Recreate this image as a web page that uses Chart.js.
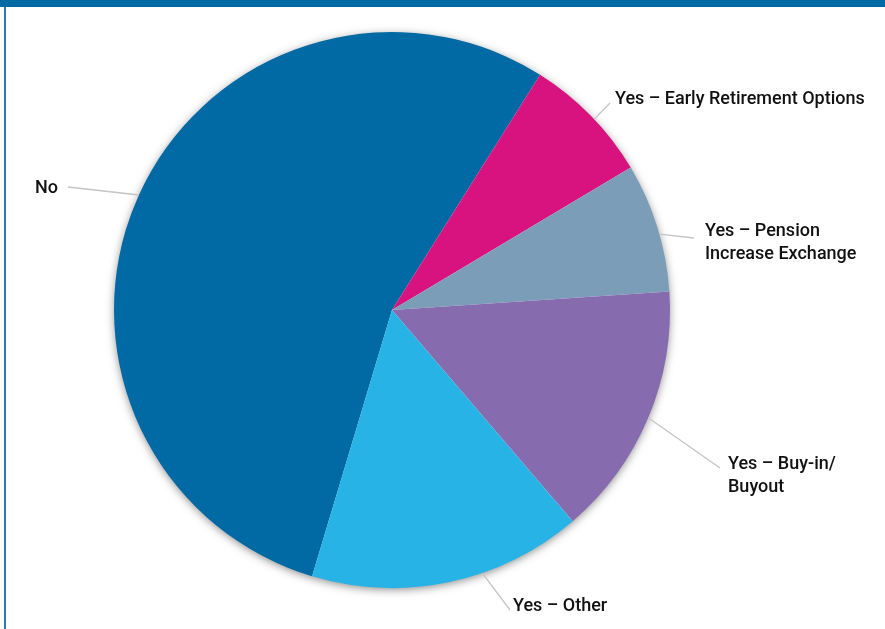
<!DOCTYPE html>
<html>
<head>
<meta charset="utf-8">
<script src="https://cdn.jsdelivr.net/npm/chart.js@4/dist/chart.umd.min.js"></script>
<style>
  html, body { margin: 0; padding: 0; background: #fff; }
  #wrap { position: relative; width: 885px; height: 629px; overflow: hidden; }
  #topbar { position: absolute; left: 0; top: 0; width: 885px; height: 7px; background: #0169a4; }
  #edge { position: absolute; left: 4px; top: 7px; width: 2px; height: 622px; background: #2a7bb6; }
  canvas { position: absolute; left: 0; top: 0; }
</style>
</head>
<body>
<div id="wrap">
  <canvas id="pie" width="885" height="629"></canvas>
  <div id="topbar"></div>
  <div id="edge"></div>
</div>
<script>
'use strict';

// --- DATA ---
const categories = ['No', 'Yes – Early Retirement Options', 'Yes – Pension Increase Exchange', 'Yes – Buy-in/ Buyout', 'Yes – Other'];
const shares = [54.3, 7.5, 7.5, 14.8, 15.9];
const labelLines = [['No'], ['Yes – Early Retirement Options'], ['Yes – Pension', 'Increase Exchange'], ['Yes – Buy-in/', 'Buyout'], ['Yes – Other']];
const sliceColors = ['#0169a4', '#d8127f', '#7b9db8', '#866caf', '#27b3e6'];

// --- LABEL LAYOUT (leader end point, text anchor, edge angle nudge in degrees) ---
const labelLayout = [
    { end: [68, 187], text: [35, 188], shift: 0 },
    { end: [610, 103], text: [615, 99], shift: 1 },
    { end: [694, 238], text: [705, 231], shift: 1.5 },
    { end: [720, 468], text: [728, 464], shift: 0 },
    { end: [510, 610], text: [513, 606], shift: -7 }
];

const pieShadow = {
    id: 'pieShadow',
    beforeDatasetsDraw(chart) {
        const arc = chart.getDatasetMeta(0).data[0];
        if (!arc) return;
        const ctx = chart.ctx;
        ctx.save();
        ctx.shadowColor = 'rgba(0,0,0,0.5)';
        ctx.shadowBlur = 10;
        ctx.shadowOffsetX = 0;
        ctx.shadowOffsetY = 2;
        ctx.fillStyle = '#fff';
        ctx.beginPath();
        ctx.arc(arc.x, arc.y, arc.outerRadius - 1, 0, Math.PI * 2);
        ctx.fill();
        ctx.restore();
    }
};

const sliceLabels = {
    id: 'sliceLabels',
    afterDatasetsDraw(chart) {
        const ctx = chart.ctx;
        const arcs = chart.getDatasetMeta(0).data;
        ctx.save();
        arcs.forEach((arc, i) => {
            const lay = labelLayout[i];
            const mid = (arc.startAngle + arc.endAngle) / 2 + lay.shift * Math.PI / 180;
            const sx = arc.x + Math.cos(mid) * arc.outerRadius;
            const sy = arc.y + Math.sin(mid) * arc.outerRadius;
            ctx.strokeStyle = '#c4c4c4';
            ctx.lineWidth = 1.3;
            ctx.beginPath();
            ctx.moveTo(sx, sy);
            ctx.lineTo(lay.end[0], lay.end[1]);
            ctx.stroke();

            ctx.fillStyle = '#111';
            ctx.font = '500 18px Roboto, "Open Sans", sans-serif';
            ctx.textAlign = 'left';
            ctx.textBaseline = 'middle';
            labelLines[i].forEach((line, k) => {
                ctx.fillText(line, lay.text[0], lay.text[1] + k * 23);
            });
        });
        ctx.restore();
    }
};

new Chart(document.getElementById('pie'), {
    type: 'pie',
    data: {
        labels: categories,
        datasets: [{
            data: shares,
            backgroundColor: sliceColors,
            borderWidth: 0
        }]
    },
    options: {
        responsive: false,
        animation: false,
        events: [],
        rotation: 196.7,
        layout: { padding: { left: 114, right: 215, top: 32, bottom: 41 } },
        plugins: {
            legend: { display: false },
            tooltip: { enabled: false }
        }
    },
    plugins: [pieShadow, sliceLabels]
});
</script>
</body>
</html>
